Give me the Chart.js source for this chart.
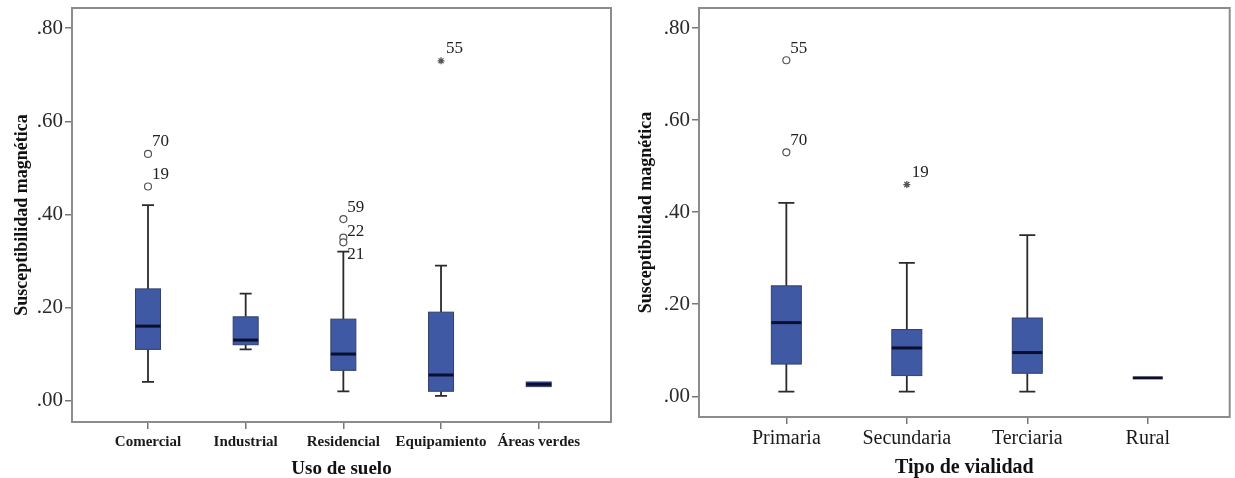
<!DOCTYPE html>
<html>
<head>
<meta charset="utf-8">
<script src="https://cdn.jsdelivr.net/npm/chart.js@4"></script>
<style>
  html, body { margin: 0; padding: 0; background: #fff; }
  #wrapUso { position: absolute; left: 0; top: 0; width: 618px; height: 478px; }
  #wrapVia { position: absolute; left: 618px; top: 0; width: 617px; height: 478px; }
</style>
</head>
<body>
<div id="wrapUso"><canvas id="chartUso"></canvas></div>
<div id="wrapVia"><canvas id="chartVia"></canvas></div>
<script>
// --- Uso de suelo (left panel) ---
const usoCategories = ['Comercial', 'Industrial', 'Residencial', 'Equipamiento', 'Áreas verdes'];
const usoMin    = [0.04, 0.11, 0.02, 0.01, 0.03];
const usoQ1     = [0.11, 0.12, 0.065, 0.02, 0.03];
const usoMedian = [0.16, 0.13, 0.10, 0.055, 0.035];
const usoQ3     = [0.24, 0.18, 0.175, 0.19, 0.04];
const usoMax    = [0.42, 0.23, 0.32, 0.29, 0.04];
const usoOutCat = [1, 1, 3, 3, 3];
const usoOutVal = [0.53, 0.46, 0.39, 0.35, 0.34];
const usoOutId  = ['70', '19', '59', '22', '21'];
const usoExtCat = [4];
const usoExtVal = [0.73];
const usoExtId  = ['55'];

// --- Tipo de vialidad (right panel) ---
const viaCategories = ['Primaria', 'Secundaria', 'Terciaria', 'Rural'];
const viaMin    = [0.01, 0.01, 0.01, 0.04];
const viaQ1     = [0.07, 0.045, 0.05, 0.04];
const viaMedian = [0.16, 0.105, 0.095, 0.04];
const viaQ3     = [0.24, 0.145, 0.17, 0.04];
const viaMax    = [0.42, 0.29, 0.35, 0.04];
const viaOutCat = [1, 1];
const viaOutVal = [0.73, 0.53];
const viaOutId  = ['55', '70'];
const viaExtCat = [2];
const viaExtVal = [0.46];
const viaExtId  = ['19'];

const yTicks = [0, 0.2, 0.4, 0.6, 0.8];
const yTitle = 'Susceptibilidad magnética';

// label nudges so the SPSS-style ids don't collide (pixels, style only)
const usoOutLabelDy = [-7.5, -7.5, -7.5, -1.5, 17];
const viaOutLabelDy = [-7.5, -7.5];

const SERIF = '"Liberation Serif", "Times New Roman", serif';

// draws boxes, whiskers, medians, ids and the frame through the chart's scales
const boxPlugin = {
  id: 'boxPlot',
  beforeDatasetsDraw(chart, args, opts) {
    const {ctx} = chart;
    const xs = chart.scales.x, ys = chart.scales.y;
    ctx.save();
    opts.median.forEach((med, i) => {
      const cx = xs.getPixelForValue(i + 1);
      const yMin = ys.getPixelForValue(opts.min[i]);
      const yMax = ys.getPixelForValue(opts.max[i]);
      const yQ1 = ys.getPixelForValue(opts.q1[i]);
      const yQ3 = ys.getPixelForValue(opts.q3[i]);
      const yMed = ys.getPixelForValue(med);
      const hw = opts.boxWidth / 2, cw = opts.capWidth / 2;

      // whiskers
      ctx.strokeStyle = '#2a2a2a';
      ctx.lineWidth = 1.8;
      ctx.beginPath();
      if (opts.max[i] > opts.q3[i]) {
        ctx.moveTo(cx, yQ3); ctx.lineTo(cx, yMax);
        ctx.moveTo(cx - cw, yMax); ctx.lineTo(cx + cw, yMax);
      }
      if (opts.min[i] < opts.q1[i]) {
        ctx.moveTo(cx, yQ1); ctx.lineTo(cx, yMin);
        ctx.moveTo(cx - cw, yMin); ctx.lineTo(cx + cw, yMin);
      }
      ctx.stroke();

      // box
      if (opts.q3[i] > opts.q1[i]) {
        ctx.fillStyle = 'rgb(63, 89, 165)';
        ctx.fillRect(cx - hw, yQ3, opts.boxWidth, yQ1 - yQ3);
        ctx.strokeStyle = '#33406a';
        ctx.lineWidth = 1;
        ctx.strokeRect(cx - hw, yQ3, opts.boxWidth, yQ1 - yQ3);
      }

      // median
      ctx.strokeStyle = '#0b0f2e';
      ctx.lineWidth = 3;
      ctx.beginPath();
      ctx.moveTo(cx - hw, yMed); ctx.lineTo(cx + hw, yMed);
      ctx.stroke();
    });
    ctx.restore();
  },
  afterDatasetsDraw(chart, args, opts) {
    const {ctx} = chart;
    const xs = chart.scales.x, ys = chart.scales.y;
    ctx.save();
    ctx.font = '17px ' + SERIF;
    ctx.fillStyle = '#222';
    ctx.textBaseline = 'alphabetic';
    opts.outCat.forEach((c, i) => {
      ctx.fillText(opts.outId[i], xs.getPixelForValue(c) + 4, ys.getPixelForValue(opts.outVal[i]) + opts.outDy[i]);
    });
    opts.extCat.forEach((c, i) => {
      ctx.fillText(opts.extId[i], xs.getPixelForValue(c) + 5, ys.getPixelForValue(opts.extVal[i]) - 8);
    });
    ctx.restore();
  },
  afterDraw(chart) {
    const {ctx, chartArea: a} = chart;
    ctx.save();
    ctx.strokeStyle = '#8c8c8c';
    ctx.lineWidth = 2;
    ctx.strokeRect(a.left, a.top, a.right - a.left, a.bottom - a.top);
    ctx.restore();
  }
};

function noPad(s) {
  s.paddingTop = 0; s.paddingBottom = 0; s.paddingLeft = 0; s.paddingRight = 0;
}

function makeChart(id, c) {
  const ctx = document.getElementById(id).getContext('2d');
  return new Chart(ctx, {
    type: 'scatter',
    data: {
      datasets: [
        {
          data: c.outCat.map((cat, i) => ({x: cat, y: c.outVal[i]})),
          pointStyle: 'circle', radius: 3.5, borderWidth: 1.2,
          borderColor: '#555', backgroundColor: '#fff'
        },
        {
          data: c.extCat.map((cat, i) => ({x: cat, y: c.extVal[i]})),
          pointStyle: 'star', radius: 3.5, borderWidth: 1.3,
          borderColor: '#555', backgroundColor: '#555'
        }
      ]
    },
    options: {
      responsive: true,
      maintainAspectRatio: false,
      animation: false,
      events: [],
      layout: { padding: { top: 8, right: c.padRight, left: 0, bottom: 0 } },
      plugins: {
        legend: { display: false },
        tooltip: { enabled: false },
        boxPlot: {
          min: c.min, q1: c.q1, median: c.median, q3: c.q3, max: c.max,
          outCat: c.outCat, outVal: c.outVal, outId: c.outId, outDy: c.outDy,
          extCat: c.extCat, extVal: c.extVal, extId: c.extId,
          boxWidth: c.boxWidth, capWidth: c.capWidth
        }
      },
      scales: {
        x: {
          type: 'linear',
          min: c.xMin, max: c.xMax,
          afterBuildTicks: s => { s.ticks = c.categories.map((_, i) => ({value: i + 1})); },
          afterFit: s => { s.height = c.xAxisHeight; noPad(s); },
          border: { display: false },
          grid: { drawOnChartArea: false, drawTicks: true, tickLength: 7, color: '#777', lineWidth: 1.5 },
          ticks: {
            callback: v => c.categories[v - 1],
            autoSkip: false, maxRotation: 0,
            padding: c.xTickPad,
            color: '#1a1a1a',
            font: { family: SERIF, size: c.xTickSize, weight: c.xTickWeight }
          },
          title: {
            display: true, text: c.xTitle, color: '#111',
            font: { family: SERIF, size: c.xTitleSize, weight: 'bold' },
            padding: { top: 0, bottom: -2 }
          }
        },
        y: {
          min: c.yMin, max: c.yMax,
          afterBuildTicks: s => { s.ticks = yTicks.map(v => ({value: v})); },
          afterFit: s => { s.width = c.yAxisWidth; noPad(s); },
          border: { display: false },
          grid: { drawOnChartArea: false, drawTicks: true, tickLength: 7, color: '#777', lineWidth: 1.5 },
          ticks: {
            callback: v => v.toFixed(2).replace(/^0/, ''),
            padding: 2,
            color: '#2a2a2a',
            font: { family: SERIF, size: 21 }
          },
          title: {
            display: true, text: yTitle, color: '#111',
            font: { family: SERIF, size: 18, weight: 'bold' },
            padding: { top: c.yTitlePad, bottom: 0 }
          }
        }
      }
    },
    plugins: [boxPlugin]
  });
}

makeChart('chartUso', {
  categories: usoCategories,
  min: usoMin, q1: usoQ1, median: usoMedian, q3: usoQ3, max: usoMax,
  outCat: usoOutCat, outVal: usoOutVal, outId: usoOutId, outDy: usoOutLabelDy,
  extCat: usoExtCat, extVal: usoExtVal, extId: usoExtId,
  xTitle: 'Uso de suelo', xTitleSize: 19,
  xTickSize: 15, xTickWeight: 'bold', xTickPad: 4,
  xMin: 0.222, xMax: 5.74,
  yMin: -0.046, yMax: 0.8435,
  xAxisHeight: 56, yAxisWidth: 72, yTitlePad: 12, padRight: 7,
  boxWidth: 25, capWidth: 12
});

makeChart('chartVia', {
  categories: viaCategories,
  min: viaMin, q1: viaQ1, median: viaMedian, q3: viaQ3, max: viaMax,
  outCat: viaOutCat, outVal: viaOutVal, outId: viaOutId, outDy: viaOutLabelDy,
  extCat: viaExtCat, extVal: viaExtVal, extId: viaExtId,
  xTitle: 'Tipo de vialidad', xTitleSize: 20,
  xTickSize: 20, xTickWeight: 'normal', xTickPad: 3,
  xMin: 0.275, xMax: 4.68,
  yMin: -0.045, yMax: 0.8435,
  xAxisHeight: 61, yAxisWidth: 81, yTitlePad: 18, padRight: 0,
  boxWidth: 30, capWidth: 16
});
</script>
</body>
</html>
